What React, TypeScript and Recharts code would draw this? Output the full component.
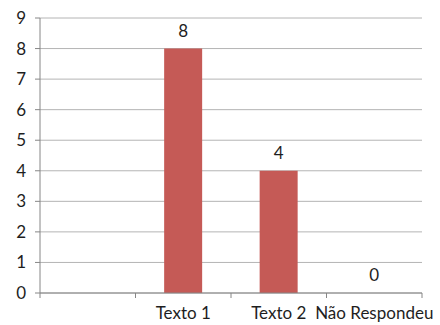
import { Bar, ComposedChart, CartesianGrid, LabelList, Line, XAxis, YAxis } from "recharts";

const categories = ["", "Texto 1", "Texto 2", "Não Respondeu"];
const answers: (number | null)[] = [null, 8, 4, 0];
const yTicks = [0, 1, 2, 3, 4, 5, 6, 7, 8, 9];

const data = categories.map((name, i) => ({ name, value: answers[i] }));

const FONT = "Lato, 'Open Sans', sans-serif";
const TEXT = "#1e1e1e";
const AXIS = "#868686";
const GRID = "#b4b4b4";
const BAR = "#c55a56";

// Excel-style category axis: tick marks sit on the band edges, labels at the centres
function CategoryTick(props: any) {
  const { x, y, payload, index, visibleTicksCount } = props;
  const half = payload && payload.offset ? payload.offset : 47.7;
  const last = index === visibleTicksCount - 1;
  return (
    <g>
      <line x1={x - half} x2={x - half} y1={y} y2={y + 5} stroke={AXIS} />
      {last && <line x1={x + half} x2={x + half} y1={y} y2={y + 5} stroke={AXIS} />}
      <text x={x} y={y + 26} textAnchor="middle" fill={TEXT} fontSize={17} fontFamily={FONT}>
        {payload.value}
      </text>
    </g>
  );
}

export default function App() {
  return (
    <div style={{ position: "absolute", left: 0, top: 0, background: "#fff" }}>
      <ComposedChart
        width={440}
        height={325}
        data={data}
        margin={{ top: 18, right: 18, left: 0, bottom: 0 }}
        barCategoryGap="30%"
      >
        <CartesianGrid horizontal vertical={false} stroke={GRID} />
        <XAxis
          dataKey="name"
          height={32}
          axisLine={{ stroke: AXIS }}
          tickLine={false}
          tickSize={0}
          tickMargin={0}
          interval={0}
          tick={<CategoryTick />}
        />
        <YAxis
          width={40}
          domain={[0, 9]}
          ticks={yTicks}
          interval={0}
          axisLine={{ stroke: AXIS }}
          tickLine={{ stroke: AXIS }}
          tickSize={5}
          tickMargin={9}
          tick={{ fill: TEXT, fontSize: 17, fontFamily: FONT }}
        />
        <Bar dataKey="value" fill={BAR} isAnimationActive={false} />
        {/* invisible series carrying the value labels, so the zero bar gets one too */}
        <Line
          dataKey="value"
          stroke="none"
          dot={false}
          activeDot={false}
          isAnimationActive={false}
        >
          <LabelList
            dataKey="value"
            position="top"
            offset={12}
            fill={TEXT}
            fontSize={17}
            fontFamily={FONT}
          />
        </Line>
      </ComposedChart>
    </div>
  );
}
